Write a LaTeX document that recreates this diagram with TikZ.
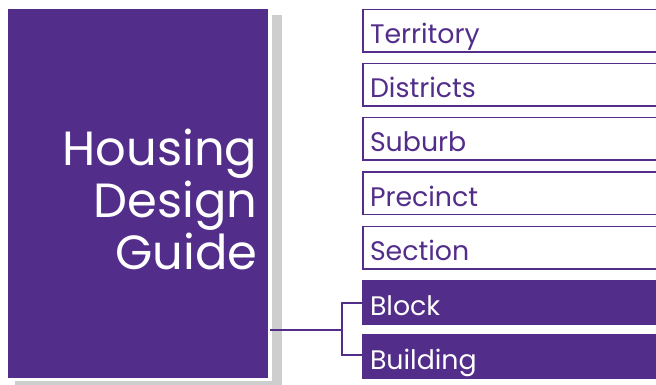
\documentclass[tikz,border=0pt]{standalone}
\usepackage{fontspec}
\setmainfont{Poppins}
\definecolor{hpurple}{HTML}{532D8A}
\definecolor{hshadow}{HTML}{CECECE}
\tikzset{
  x=1pt,y=-1pt,
  levelbox/.style={draw=hpurple,line width=1.9pt,fill=white,minimum width=300pt,minimum height=42.5pt,anchor=north west,inner sep=0pt,text width=286pt,text height=26pt,text depth=0pt,align=left,text=hpurple,font=\fontsize{26.8}{30}\selectfont,outer sep=0pt},
  levelon/.style={levelbox,draw=none,fill=hpurple,text=white,minimum height=44.5pt,text width=284pt,text height=26pt},
  link/.style={draw=hpurple,line width=1.9pt,line cap=rect},
}
\begin{document}
\begin{tikzpicture}
\useasboundingbox[fill=white] (0,0) rectangle (656,385);
\begin{scope}
\clip (0,0) rectangle (656,385);
\fill[hshadow] (15,15) rectangle (282,385);
\fill[white] (5,5) rectangle (272,381);
\node[fill=hpurple,draw=none,anchor=north west,minimum width=260pt,minimum height=369pt,inner sep=0pt,outer sep=0pt] (main) at (8,9) {};
\node[anchor=east,align=right,text=white,inner sep=0pt,font=\fontsize{48}{52}\selectfont] (title) at (257.5,199.5) {Housing\\Design\\Guide};
\node[levelbox] (territory) at (363,9.5) {Territory};
\node[levelbox] (districts) at (363,63.5) {Districts};
\node[levelbox] (suburb) at (363,117.5) {Suburb};
\node[levelbox] (precinct) at (363,172) {Precinct};
\node[levelbox] (section) at (363,226.5) {Section};
\node[levelon] (block) at (362,280) {Block};
\node[levelon] (building) at (362,334) {Building};
\coordinate (start) at (271,330);
\coordinate (fork) at (342,330);
\draw[link] (start) -- (fork);
\draw[link] (block.west |- 0,303) -| (fork);
\draw[link] (building.west |- 0,355) -| (fork);
\end{scope}
\end{tikzpicture}
\end{document}
